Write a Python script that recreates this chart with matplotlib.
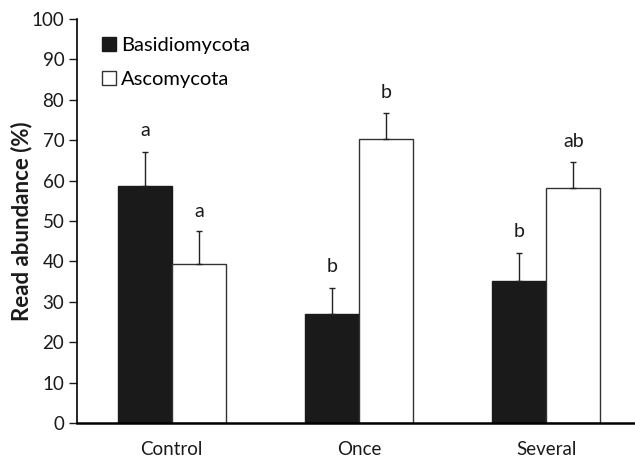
import numpy as np
import matplotlib.pyplot as plt

plt.rcParams['font.family'] = ['Lato', 'DejaVu Sans']

groups = ["Control", "Once", "Several"]
basidio = [58.7, 27.0, 35.2]
basidio_err = [8.3, 6.5, 6.8]
ascomy = [39.3, 70.2, 58.1]
ascomy_err = [8.1, 6.5, 6.6]
basidio_letters = ["a", "b", "b"]
ascomy_letters = ["a", "b", "ab"]

x = np.arange(len(groups))
w = 0.288
fs = 13.5

fig = plt.figure(figsize=(6.35, 4.61), dpi=100)
ax = fig.add_axes([0.121, 0.0824, 0.878, 0.8766])

ax.bar(x - w / 2, basidio, w, color="#1a1a1a", edgecolor="#1a1a1a", lw=1, label="Basidiomycota")
ax.bar(x + w / 2, ascomy, w, color="white", edgecolor="#333333", lw=1, label="Ascomycota")
ax.errorbar(x - w / 2, basidio, yerr=[np.zeros(3), basidio_err], fmt="none",
            ecolor="#222222", elinewidth=1, capsize=2.5, capthick=1)
ax.errorbar(x + w / 2, ascomy, yerr=[np.zeros(3), ascomy_err], fmt="none",
            ecolor="#222222", elinewidth=1, capsize=2.5, capthick=1)

for i in range(len(groups)):
    ax.text(x[i] - w / 2, basidio[i] + basidio_err[i] + 5.3, basidio_letters[i],
            ha="center", va="center", fontsize=14, color="#1a1a1a")
    ax.text(x[i] + w / 2, ascomy[i] + ascomy_err[i] + 5.0, ascomy_letters[i],
            ha="center", va="center", fontsize=14, color="#1a1a1a")

ax.set_xlim(-0.507, 2.47)
ax.set_ylim(0, 100)
ax.set_yticks(range(0, 101, 10))
ax.set_xticks(x)
ax.set_xticklabels(groups)
ax.tick_params(axis="x", length=0, pad=13, labelsize=fs, colors="#1a1a1a")
ax.tick_params(axis="y", length=6, width=1, direction="out", labelsize=fs, colors="#1a1a1a", pad=3)
ax.spines["top"].set_visible(False)
ax.spines["right"].set_visible(False)
ax.spines["left"].set_linewidth(1.2)
ax.spines["bottom"].set_linewidth(1.8)
ax.set_ylabel("Read abundance (%)", fontsize=16, fontweight="bold", color="#1a1a1a")
ax.yaxis.set_label_coords(-0.08, 0.5)

ax.legend(loc="upper left", bbox_to_anchor=(0.045, 0.955), frameon=False, fontsize=14.5,
          handlelength=0.7, handleheight=0.7, handletextpad=0.25, labelspacing=0.85,
          borderpad=0, borderaxespad=0)

fig.savefig("out.png", dpi=100)
